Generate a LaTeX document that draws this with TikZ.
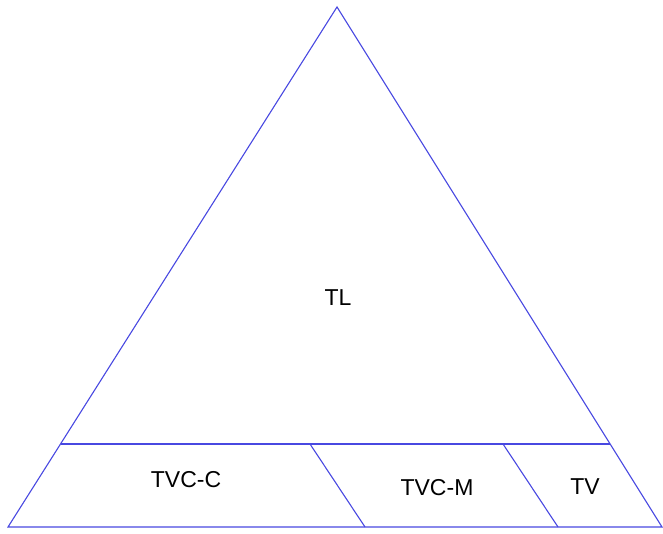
\documentclass[tikz,border=0pt]{standalone}
\usepackage{fontspec}
\setmainfont{Liberation Sans}
\usetikzlibrary{calc}
\definecolor{edgeblue}{RGB}{72,72,225}
\begin{document}
\begin{tikzpicture}[x=1pt,y=1pt,
  edge/.style={draw=edgeblue,line width=1.1pt},
  lbl/.style={font=\fontsize{23}{26}\selectfont,text=black,inner sep=0pt}]
\useasboundingbox (0,0) rectangle (663,533);
\coordinate (A) at (337,526);
\coordinate (BL) at (8,6);
\coordinate (BR) at (662,6);
\coordinate (HL) at ($(A)!0.8404!(BL)$);
\coordinate (HR) at ($(A)!0.8404!(BR)$);
\coordinate (D1t) at (310,89);
\coordinate (D1b) at (365,6);
\coordinate (D2t) at (503,89);
\coordinate (D2b) at (558,6);
\draw[edge,line join=miter] (A) -- (BR) -- (BL) -- cycle;
\draw[edge] (HL) -- (HR);
\draw[edge] (D1t) -- (D1b);
\draw[edge] (D2t) -- (D2b);
\node[lbl] (tl) at (338,235) {TL};
\node[lbl] (tvcc) at (186,53) {TVC-C};
\node[lbl] (tvcm) at (437,45) {TVC-M};
\node[lbl] (tv) at (585,46) {TV};
\end{tikzpicture}
\end{document}
